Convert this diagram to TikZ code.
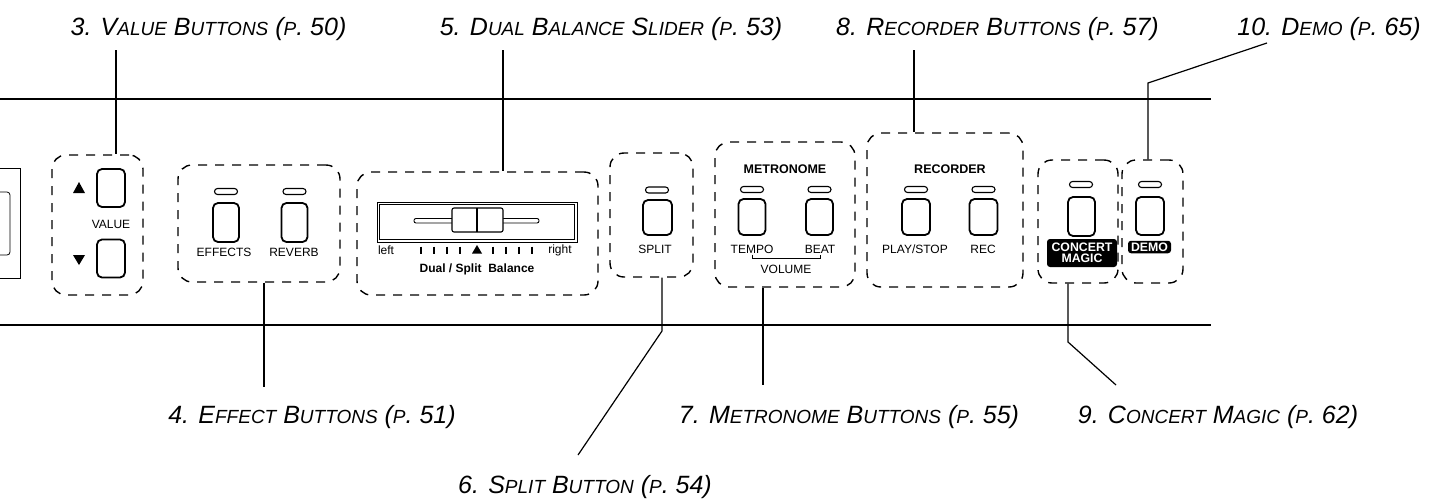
\documentclass[tikz,border=0pt]{standalone}
\usepackage{fontspec}
\setmainfont{Liberation Sans}
\newfontfamily\labfont{Liberation Sans}
\newcommand\smc[1]{{\fontsize{19}{19}\selectfont #1}}
\tikzset{
  lab/.style={font=\labfont\itshape\fontsize{25}{25}\selectfont, inner sep=0, anchor=base},
  grp/.style={draw, line width=1.4pt, dash pattern=on 9pt off 8pt, rounded corners=14pt, inner sep=0},
  btn/.style={draw, line width=1.8pt, rounded corners=5pt, minimum width=27pt, minimum height=37pt, inner sep=0},
  led/.style={draw, line width=1.1pt, rounded corners=3pt, minimum width=23pt, minimum height=6pt, inner sep=0},
  ptxt/.style={font=\fontsize{12}{12}\selectfont, inner sep=0},
  pbold/.style={font=\bfseries\fontsize{12.5}{12.5}\selectfont, inner sep=0},
  leader/.style={line width=1.2pt},
  blk/.style={fill=black, rounded corners=3pt, text=white, font=\bfseries\fontsize{12.3}{11.5}\selectfont, inner sep=0pt, align=center}
}
\begin{document}
\begin{tikzpicture}[x=1pt,y=-1pt]
\useasboundingbox (0,0) rectangle (1442,501);
% panel edges
\draw[line width=1.1pt] (0,99) -- (1211,99);
\draw[line width=1.1pt] (0,325) -- (1211,325);
% left partial element
\draw[line width=0.8pt] (0,168) -- (20,168) -- (20,278) -- (0,278);
\draw[line width=0.8pt, rounded corners=3pt] (0,192) -- (10,192) -- (10,255) -- (0,255);

% groups
\node[grp, minimum width=91pt, minimum height=140pt] (gval) at (97.5,225) {};
\node[grp, minimum width=162pt, minimum height=117pt] (geff) at (259,223.5) {};
\node[grp, minimum width=241pt, minimum height=123pt] (gsl) at (477.5,233.5) {};
\node[grp, minimum width=83pt, minimum height=124pt] (gspl) at (651.5,215) {};
\node[grp, minimum width=140pt, minimum height=145pt] (gmet) at (785,214.5) {};
\node[grp, minimum width=156pt, minimum height=154pt] (grec) at (945,210) {};
\node[grp, minimum width=80pt, minimum height=123pt] (gcon) at (1078,221.5) {};
\node[grp, minimum width=61pt, minimum height=123pt] (gdem) at (1152.5,221.5) {};

% value
\node[btn, minimum width=28pt, minimum height=38pt] (bvup) at (111,188) {};
\node[btn, minimum width=28pt, minimum height=38pt] (bvdn) at (111,258.5) {};
\node[ptxt] (tval) at (111,224) {VALUE};
\fill (73,193) -- (85,193) -- (79,182) -- cycle;
\fill (73,255) -- (85,255) -- (79,265) -- cycle;

% effects
\node[led] (le1) at (226,191.5) {};
\node[led] (le2) at (294.5,191.5) {};
\node[btn, minimum width=26pt, minimum height=39pt] (be1) at (226,222.5) {};
\node[btn, minimum width=26pt, minimum height=39pt] (be2) at (294.5,222.5) {};
\node[ptxt] (te1) at (224,252.5) {EFFECTS};
\node[ptxt] (te2) at (294,252.5) {REVERB};

% slider
\draw[line width=0.7pt] (377,202) rectangle (577,242);
\draw[line width=1.3pt] (379.5,204.5) rectangle (574.5,239.5);
\draw[line width=0.9pt, rounded corners=2pt] (414,218.5) rectangle (539,223);
\draw[line width=1.1pt, fill=white, rounded corners=2pt] (452,208) rectangle (503,232);
\draw[line width=2pt] (477,208) -- (477,232);
\node[ptxt] (tleft) at (386,250) {left};
\node[ptxt] (tright) at (560,250) {right};
\foreach \t in {421,434,447,460,493,506,519,532} \draw[line width=2.2pt] (\t,246.5) -- (\t,253.5);
\fill (472,253.5) -- (482,253.5) -- (477,245) -- cycle;
\node[pbold, font=\bfseries\fontsize{12}{12}\selectfont] (tbal) at (477,269) {Dual / Split\ \ Balance};

% split
\node[led] (ls) at (657,190) {};
\node[btn, minimum width=29pt, minimum height=35pt] (bs) at (657.5,217.5) {};
\node[ptxt] (ts) at (655,249) {SPLIT};

% metronome
\node[pbold] (tmet) at (785,169) {METRONOME};
\node[led] (lm1) at (752,189.5) {};
\node[led] (lm2) at (819.5,189.5) {};
\node[btn, minimum height=36pt] (bm1) at (752,217) {};
\node[btn, minimum height=36pt] (bm2) at (819.5,217) {};
\node[ptxt] (tm1) at (752,249) {TEMPO};
\node[ptxt] (tm2) at (820,249) {BEAT};
\draw[line width=0.8pt] (752,254.5) -- (752,258.5) -- (820,258.5) -- (820,254.5);
\node[ptxt] (tvol) at (786,269) {VOLUME};

% recorder
\node[pbold] (trec) at (950,169) {RECORDER};
\node[led] (lr1) at (916,189.5) {};
\node[led] (lr2) at (983.5,189.5) {};
\node[btn, minimum width=28pt, minimum height=36pt] (br1) at (916,217) {};
\node[btn, minimum width=28pt, minimum height=36pt] (br2) at (983.5,217) {};
\node[ptxt] (tr1) at (915,249) {PLAY/STOP};
\node[ptxt] (tr2) at (983,249) {REC};

% concert magic
\node[led] (lc) at (1081,184.5) {};
\node[btn, minimum height=39pt] (bc) at (1081.5,216.5) {};
\node[blk, minimum width=70pt, minimum height=28pt] (tc) at (1082,253) {CONCERT\\MAGIC};

% demo
\node[led] (ld) at (1150,184.5) {};
\node[btn, minimum width=28pt, minimum height=38pt] (bd) at (1150,216) {};
\node[blk, minimum width=43pt, minimum height=12.5pt] (td) at (1149.5,247) {DEMO};

% labels
\node[lab] (l3) at (208.5,35) {3. V\smc{ALUE} B\smc{UTTONS} (\smc{P}. 50)};
\node[lab] (l5) at (611,35) {5. D\smc{UAL} B\smc{ALANCE} S\smc{LIDER} (\smc{P}. 53)};
\node[lab] (l8) at (997.5,35) {8. R\smc{ECORDER} B\smc{UTTONS} (\smc{P}. 57)};
\node[lab] (l10) at (1329,35) {10. D\smc{EMO} (\smc{P}. 65)};
\node[lab] (l4) at (312,423) {4. E\smc{FFECT} B\smc{UTTONS} (\smc{P}. 51)};
\node[lab] (l7) at (849,423) {7. M\smc{ETRONOME} B\smc{UTTONS} (\smc{P}. 55)};
\node[lab] (l9) at (1218,423) {9. C\smc{ONCERT} M\smc{AGIC} (\smc{P}. 62)};
\node[lab] (l6) at (585,493) {6. S\smc{PLIT} B\smc{UTTON} (\smc{P}. 54)};

% leaders
\coordinate (c3) at (116,50);
\coordinate (c5) at (503,50);
\coordinate (c8) at (914,50);
\coordinate (c10a) at (1267,43);
\coordinate (c10b) at (1148,83);
\coordinate (c4) at (264,387);
\coordinate (c7) at (763,385);
\coordinate (c6a) at (662,331);
\coordinate (c6b) at (578,455);
\coordinate (c9a) at (1068,342);
\coordinate (c9b) at (1116,385);
\draw[leader] (c3) -- (c3 |- gval.north);
\draw[leader] (c5) -- (c5 |- gsl.north);
\draw[leader] (c8) -- (c8 |- grec.north);
\draw[leader] (c10a) -- (c10b) -- (c10b |- gdem.north);
\draw[leader] (c4 |- geff.south) -- (c4);
\draw[leader] (c7 |- gmet.south) -- (c7);
\draw[leader] (c6a |- gspl.south) -- (c6a) -- (c6b);
\draw[leader] (c9a |- gcon.south) -- (c9a) -- (c9b);
\end{tikzpicture}
\end{document}
